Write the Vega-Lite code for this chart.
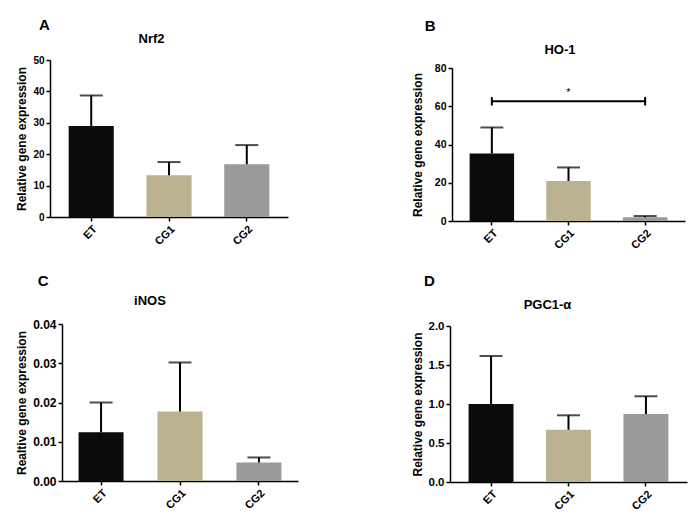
{
  "$schema": "https://vega.github.io/schema/vega-lite/v6.json",
  "padding": {"left": 15, "top": 17, "right": 5, "bottom": 5},
  "config": {
    "font": "Liberation Sans",
    "view": {"stroke": null},
    "axis": {"domainColor": "#000", "domainWidth": 1.5, "tickColor": "#000", "tickWidth": 1.5, "tickSize": 4, "labelColor": "#000", "labelFontWeight": "bold", "labelFontSize": 11, "labelPadding": 2, "labelOverlap": false, "labelBound": false, "labelSeparation": 0, "titleFontWeight": "bold", "titleFontSize": 12, "titleColor": "#000", "titlePadding": 4, "grid": false},
    "axisX": {"labelAngle": -45, "labelAlign": "right", "labelBaseline": "top", "title": null, "labelFontSize": 11},
    "title": {"fontWeight": "bold", "color": "#000"}
  },
  "columns": 2,
  "align": "none",
  "spacing": {"row": 23, "column": 106},
  "concat": [
    {
      "title": {"text": "A", "anchor": "start", "fontSize": 15, "dx": 23, "offset": 0.5},
      "vconcat": [
        {
          "width": 255, "height": 157,
          "title": {"text": "Nrf2", "fontSize": 13, "anchor": "middle", "frame": "group", "dx": -26, "offset": 9},
          "data": {"values": [
            {"g": "ET", "v": 29.0, "hi": 38.7},
            {"g": "CG1", "v": 13.3, "hi": 17.5},
            {"g": "CG2", "v": 16.8, "hi": 22.9}
          ]},
          "encoding": {"x": {"field": "g", "type": "nominal", "scale": {"domain": ["ET", "CG1", "CG2"], "range": [0, 238], "paddingInner": 0.42, "paddingOuter": 0.24}}},
          "layer": [
            {"mark": {"type": "bar"}, "encoding": {
              "y": {"field": "v", "type": "quantitative", "scale": {"domain": [0, 50], "range": [157, 0]}, "axis": {"title": "Relative gene expression", "values": [0, 10, 20, 30, 40, 50], "labelOverlap": false, "labelFontSize": 10}},
              "color": {"field": "g", "type": "nominal", "scale": {"domain": ["ET", "CG1", "CG2"], "range": ["#0b0b0b", "#bbb38f", "#9a9a9a"]}, "legend": null}}},
            {"mark": {"type": "rule", "strokeWidth": 2, "color": "#000"}, "encoding": {"y": {"field": "v", "type": "quantitative", "axis": {"title": "Relative gene expression", "values": [0, 10, 20, 30, 40, 50], "labelOverlap": false, "labelFontSize": 10}}, "y2": {"field": "hi"}}},
            {"mark": {"type": "tick", "thickness": 2, "size": 23, "color": "#000"}, "encoding": {"y": {"field": "hi", "type": "quantitative", "axis": {"title": "Relative gene expression", "values": [0, 10, 20, 30, 40, 50], "labelOverlap": false, "labelFontSize": 10}}}}
          ]
        }
      ]
    },
    {
      "title": {"text": "B", "anchor": "start", "fontSize": 15, "dx": 13, "offset": 10},
      "vconcat": [
        {
          "width": 236, "height": 161,
          "title": {"text": "HO-1", "fontSize": 13, "anchor": "middle", "frame": "group", "dx": -7, "offset": 3},
          "encoding": {"x": {"field": "g", "type": "nominal", "scale": {"domain": ["ET", "CG1", "CG2"], "range": [3, 236], "paddingInner": 0.42, "paddingOuter": 0.23}}},
          "layer": [
            {
              "data": {"values": [
                {"g": "ET", "v": 35.3, "hi": 48.9},
                {"g": "CG1", "v": 20.9, "hi": 28.0},
                {"g": "CG2", "v": 1.9, "hi": 2.6}
              ]},
              "layer": [
                {"mark": {"type": "bar"}, "encoding": {
                  "y": {"field": "v", "type": "quantitative", "scale": {"domain": [0, 80], "range": [161, 8]}, "axis": {"title": "Relative gene expression", "values": [0, 20, 40, 60, 80], "labelOverlap": false, "labelFontSize": 10.5, "offset": -3, "titlePadding": 9.5}},
                  "color": {"field": "g", "type": "nominal", "scale": {"domain": ["ET", "CG1", "CG2"], "range": ["#0b0b0b", "#bbb38f", "#9a9a9a"]}, "legend": null}}},
                {"mark": {"type": "rule", "strokeWidth": 2, "color": "#000"}, "encoding": {"y": {"field": "v", "type": "quantitative"}, "y2": {"field": "hi"}}},
                {"mark": {"type": "tick", "thickness": 2, "size": 23, "color": "#000"}, "encoding": {"y": {"field": "hi", "type": "quantitative"}}}
              ]
            },
            {
              "data": {"values": [{"a": "ET", "b": "CG2", "y": 62.6}]},
              "mark": {"type": "rule", "strokeWidth": 2, "color": "#000"},
              "encoding": {"x": {"field": "a", "type": "nominal"}, "x2": {"field": "b"}, "y": {"field": "y", "type": "quantitative"}}
            },
            {
              "data": {"values": [{"g": "ET", "y1": 60.4, "y2": 64.8}, {"g": "CG2", "y1": 60.4, "y2": 64.8}]},
              "mark": {"type": "rule", "strokeWidth": 2, "color": "#000"},
              "encoding": {"y": {"field": "y1", "type": "quantitative"}, "y2": {"field": "y2"}}
            },
            {
              "data": {"values": [{"g": "CG1", "y": 64.5, "t": "*"}]},
              "mark": {"type": "text", "fontSize": 11, "baseline": "bottom", "color": "#000"},
              "encoding": {"y": {"field": "y", "type": "quantitative"}, "text": {"field": "t"}}
            }
          ]
        }
      ]
    },
    {
      "title": {"text": "C", "anchor": "start", "fontSize": 15, "dx": 22, "offset": 6},
      "vconcat": [
        {
          "width": 248, "height": 157,
          "title": {"text": "iNOS", "fontSize": 13, "anchor": "middle", "frame": "group", "dx": -24, "offset": 10},
          "data": {"values": [
            {"g": "ET", "v": 0.0124, "hi": 0.0200},
            {"g": "CG1", "v": 0.0177, "hi": 0.0302},
            {"g": "CG2", "v": 0.0047, "hi": 0.0060}
          ]},
          "encoding": {"x": {"field": "g", "type": "nominal", "scale": {"domain": ["ET", "CG1", "CG2"], "range": [12, 248], "paddingInner": 0.43, "paddingOuter": 0.21}}},
          "layer": [
            {"mark": {"type": "bar"}, "encoding": {
              "y": {"field": "v", "type": "quantitative", "scale": {"domain": [0, 0.04], "range": [157, 0]}, "axis": {"title": "Realtive gene expression", "values": [0, 0.01, 0.02, 0.03, 0.04], "format": ".2f", "offset": -12, "labelOverlap": false, "labelFontSize": 12}},
              "color": {"field": "g", "type": "nominal", "scale": {"domain": ["ET", "CG1", "CG2"], "range": ["#0b0b0b", "#bbb38f", "#9a9a9a"]}, "legend": null}}},
            {"mark": {"type": "rule", "strokeWidth": 2, "color": "#000"}, "encoding": {"y": {"field": "v", "type": "quantitative", "axis": {"title": "Realtive gene expression", "values": [0, 0.01, 0.02, 0.03, 0.04], "format": ".2f", "offset": -12, "labelOverlap": false, "labelFontSize": 12}}, "y2": {"field": "hi"}}},
            {"mark": {"type": "tick", "thickness": 2, "size": 23, "color": "#000"}, "encoding": {"y": {"field": "hi", "type": "quantitative", "axis": {"title": "Realtive gene expression", "values": [0, 0.01, 0.02, 0.03, 0.04], "format": ".2f", "offset": -12, "labelOverlap": false, "labelFontSize": 12}}}}
          ]
        }
      ]
    },
    {
      "title": {"text": "D", "anchor": "start", "fontSize": 15, "dx": 13, "offset": 10},
      "vconcat": [
        {
          "width": 237, "height": 158,
          "title": {"text": "PGC1-α", "fontSize": 13, "anchor": "middle", "frame": "group", "dx": -21, "offset": 8},
          "encoding": {"x": {"field": "g", "type": "nominal", "scale": {"domain": ["ET", "CG1", "CG2"], "paddingInner": 0.42, "paddingOuter": 0.24}}},
          "layer": [
            {
              "data": {"values": [
                {"g": "ET", "v": 1.0, "hi": 1.615},
                {"g": "CG1", "v": 0.67, "hi": 0.855},
                {"g": "CG2", "v": 0.872, "hi": 1.099}
              ]},
              "layer": [
                {"mark": {"type": "bar"}, "encoding": {
                  "y": {"field": "v", "type": "quantitative", "scale": {"domain": [0, 2], "range": [158, 2]}, "axis": {"title": "Relative gene expression", "values": [0, 0.5, 1, 1.5, 2], "format": ".1f", "labelOverlap": false, "labelFontSize": 11.5}},
                  "color": {"field": "g", "type": "nominal", "scale": {"domain": ["ET", "CG1", "CG2"], "range": ["#0b0b0b", "#bbb38f", "#9a9a9a"]}, "legend": null}}},
                {"mark": {"type": "rule", "strokeWidth": 2, "color": "#000"}, "encoding": {"y": {"field": "v", "type": "quantitative", "axis": {"title": "Relative gene expression", "values": [0, 0.5, 1, 1.5, 2], "format": ".1f", "labelOverlap": false, "labelFontSize": 11.5}}, "y2": {"field": "hi"}}},
                {"mark": {"type": "tick", "thickness": 2, "size": 23, "color": "#000"}, "encoding": {"y": {"field": "hi", "type": "quantitative", "axis": {"title": "Relative gene expression", "values": [0, 0.5, 1, 1.5, 2], "format": ".1f", "labelOverlap": false, "labelFontSize": 11.5}}}}
              ]
            }
          ]
        }
      ]
    }
  ]
}
